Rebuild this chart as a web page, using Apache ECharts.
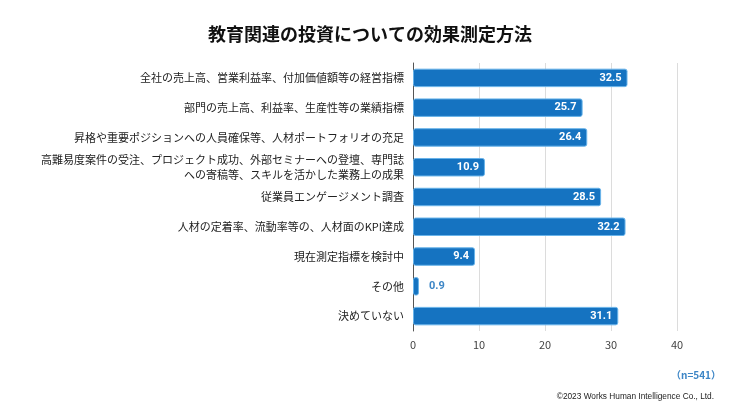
<!DOCTYPE html>
<html><head><meta charset="utf-8">
<script src="https://cdn.jsdelivr.net/npm/echarts@6/dist/echarts.min.js"></script>
<style>html,body{margin:0;padding:0;background:#fff}#c{width:740px;height:416px}</style>
</head><body><div id="c"></div>
<script>
const categories = [
  '全社の売上高、営業利益率、付加価値額等の経営指標',
  '部門の売上高、利益率、生産性等の業績指標',
  '昇格や重要ポジションへの人員確保等、人材ポートフォリオの充足',
  '高難易度案件の受注、プロジェクト成功、外部セミナーへの登壇、専門誌\nへの寄稿等、スキルを活かした業務上の成果',
  '従業員エンゲージメント調査',
  '人材の定着率、流動率等の、人材面のKPI達成',
  '現在測定指標を検討中',
  'その他',
  '決めていない'
];
const values = [32.5, 25.7, 26.4, 10.9, 28.5, 32.2, 9.4, 0.9, 31.1];
const xTicks = [0, 10, 20, 30, 40];

const chart = echarts.init(document.getElementById('c'));
const FONT = '"Noto Sans CJK JP", "Noto Sans", sans-serif';
chart.setOption({
  animation: false,
  textStyle: { fontFamily: FONT },
  title: [
    { text: '教育関連の投資についての効果測定方法', left: 'center', top: 20,
      textStyle: { fontSize: 18, fontWeight: 'bold', color: '#111', fontFamily: FONT } },
    { text: '（n=541）', right: 14, top: 365,
      textStyle: { fontSize: 10, fontWeight: 'bold', color: '#3d86c6', fontFamily: FONT } },
    { text: '©2023 Works Human Intelligence Co., Ltd.', right: 21, top: 388,
      textStyle: { fontSize: 8.3, fontWeight: 'normal', color: '#222', fontFamily: 'Liberation Sans, Arial, sans-serif' } }
  ],
  grid: { left: 413, right: 63, top: 63, bottom: 85 },
  xAxis: {
    type: 'value', min: 0, max: 40, interval: 10,
    axisLabel: { color: '#444', fontSize: 11, margin: 8,
      formatter: v => xTicks.includes(v) ? String(v) : '' },
    splitLine: { lineStyle: { color: '#dcdcdc' } },
    axisLine: { show: false }, axisTick: { show: false }
  },
  yAxis: {
    type: 'category', data: categories, inverse: true,
    axisLine: { show: true, lineStyle: { color: '#555' } },
    axisTick: { show: false },
    axisLabel: { color: '#222', fontSize: 11, margin: 9, lineHeight: 15, align: 'right' }
  },
  series: [{
    type: 'bar', data: values.map(v => ({
      value: v,
      label: v < 3 ? { position: 'right', color: '#3d86c6', distance: 10 } : {}
    })),
    barCategoryGap: '38%',
    itemStyle: { color: '#1573c1', borderColor: '#69b4ea', borderWidth: 1, borderRadius: 2 },
    label: { show: true, position: 'insideRight', color: '#fff', fontWeight: 'bold', fontSize: 11,
      distance: 6, fontFamily: 'Roboto, sans-serif' }
  }]
});
</script></body></html>
